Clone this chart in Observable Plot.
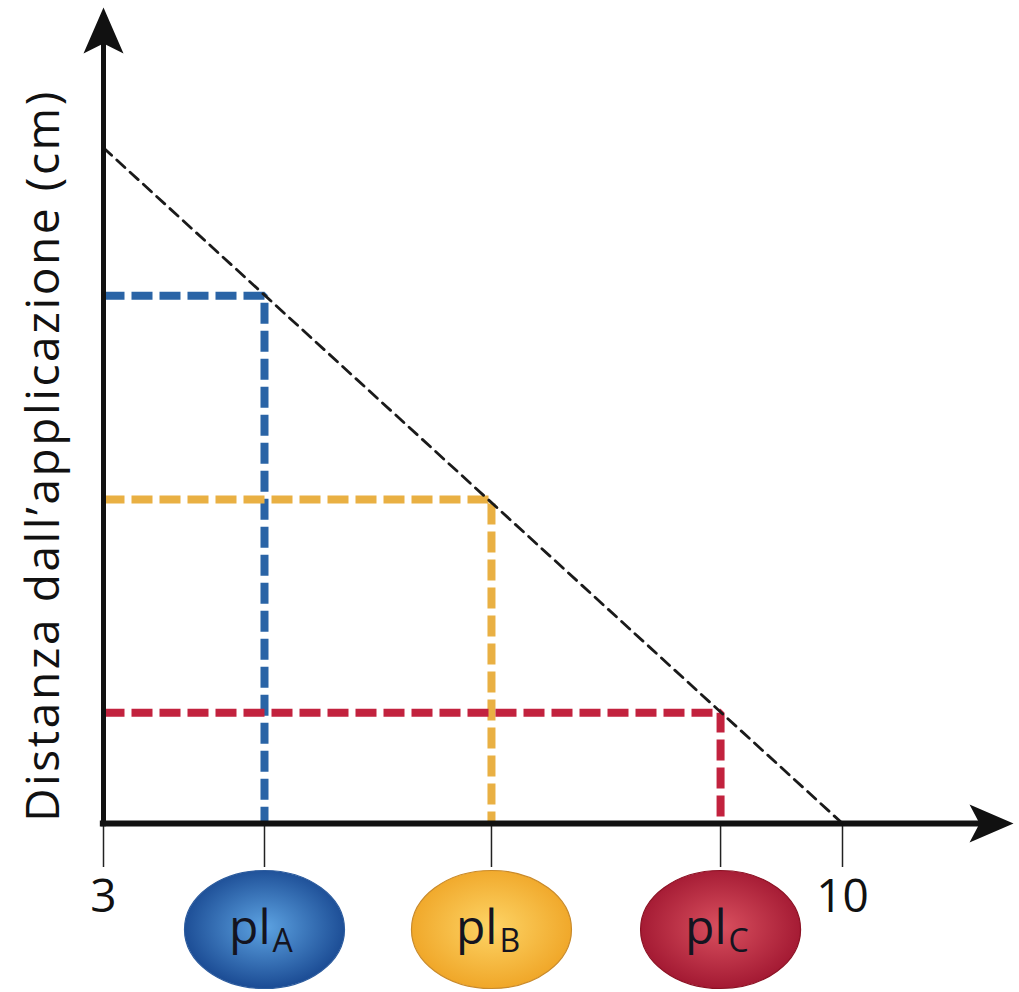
<!DOCTYPE html>
<html><head><meta charset="utf-8">
<script src="https://cdn.jsdelivr.net/npm/d3@7"></script>
<script src="https://cdn.jsdelivr.net/npm/@observablehq/plot@0.6"></script>
<style>body{margin:0;background:#fff}</style>
</head><body><div id="chart"></div>
<script>
// ---- data ----
const products = ["A", "B", "C"];
const productX = [4.525, 6.675, 8.845];
const productY = [5.0, 3.07, 1.05];
const productColors = ["#2a64a6", "#e9b043", "#c2223e"];
const gradInner = ["#5da3e2", "#fdd466", "#d9505f"];
const gradOuter = ["#17468f", "#efa425", "#a01630"];
const ellipseStroke = ["#2d5c9e", "#c98a2a", "#8c1224"];
const trendX = [3, 10];
const trendY = [6.4, 0];
const xTickLabels = [3, 10];
const yLabel = "Distanza dall’applicazione (cm)";
const xAxisSpan = [2.97, 11.36];
const yAxisSpan = [-0.03, 7.42];
const arrowTipX = 11.62;
const arrowTipY = 7.73;

// ---- helpers ----
const guide = products.flatMap((p, i) => [
  {p, x: trendX[0], y: productY[i]},
  {p, x: productX[i], y: productY[i]},
  {p, x: productX[i], y: 0}
]);
const trend = trendX.map((x, i) => ({x, y: trendY[i]}));

const ellipse = {draw(ctx) {
  const rx = 80, ry = 59, k = 0.5523;
  ctx.moveTo(rx, 0);
  ctx.bezierCurveTo(rx, ry * k, rx * k, ry, 0, ry);
  ctx.bezierCurveTo(-rx * k, ry, -rx, ry * k, -rx, 0);
  ctx.bezierCurveTo(-rx, -ry * k, -rx * k, -ry, 0, -ry);
  ctx.bezierCurveTo(rx * k, -ry, rx, -ry * k, rx, 0);
  ctx.closePath();
}};
const arrowUp = {draw(ctx) {
  ctx.moveTo(0, 0); ctx.lineTo(20, 46); ctx.lineTo(0, 36); ctx.lineTo(-20, 46); ctx.closePath();
}};
const arrowRight = {draw(ctx) {
  ctx.moveTo(0, 0); ctx.lineTo(-44, -19); ctx.lineTo(-34, 0); ctx.lineTo(-44, 19); ctx.closePath();
}};

const defsMark = () => {
  const g = d3.create("svg:defs");
  products.forEach((p, i) => {
    const rg = g.append("radialGradient").attr("id", "grad" + p)
      .attr("cx", "50%").attr("cy", "48%").attr("r", "55%");
    rg.append("stop").attr("offset", "0%").attr("stop-color", gradInner[i]);
    rg.append("stop").attr("offset", "100%").attr("stop-color", gradOuter[i]);
  });
  return g.node();
};

const chart = Plot.plot({
  width: 1019,
  height: 992,
  marginLeft: 103,
  marginRight: 177,
  marginTop: 15,
  marginBottom: 169,
  style: {fontFamily: "Open Sans", color: "#111", background: "#fff"},
  x: {domain: [3, 10]},
  y: {domain: [0, 7.654], axis: null},
  color: {type: "identity"},
  marks: [
    defsMark,
    Plot.line(guide, {x: "x", y: "y", z: "p",
      stroke: d => productColors[products.indexOf(d.p)],
      strokeWidth: 8, strokeDasharray: "21,7", strokeLinecap: "butt", strokeLinejoin: "miter"}),
    Plot.line(trend, {x: "x", y: "y", stroke: "#1a1a1a", strokeWidth: 2.8, strokeDasharray: "11,7"}),
    Plot.axisX({ticks: [3, ...productX, 10], tickSize: 44, tickPadding: 12, fontSize: 46,
      tickFormat: d => xTickLabels.includes(d) ? String(d) : "", label: null,
      stroke: "#222", strokeWidth: 1.5}),
    Plot.ruleY([0], {x1: xAxisSpan[0], x2: xAxisSpan[1], stroke: "#111", strokeWidth: 6}),
    Plot.ruleX([3], {y1: yAxisSpan[0], y2: yAxisSpan[1], stroke: "#111", strokeWidth: 5}),
    Plot.dot([0], {x: arrowTipX, y: 0, symbol: arrowRight, fill: "#111", stroke: "none"}),
    Plot.dot([0], {x: 3, y: arrowTipY, symbol: arrowUp, fill: "#111", stroke: "none"}),
    ...products.map((p, i) => Plot.dot([p], {x: productX[i], y: 0, dy: 106, symbol: ellipse,
      fill: `url(#grad${p})`, stroke: ellipseStroke[i], strokeWidth: 1.2})),
    Plot.text(products, {x: (d, i) => productX[i], y: 0, text: () => "pl", textAnchor: "end",
      lineAnchor: "bottom", dx: 6, dy: 120, fontSize: 48, fill: "#141420"}),
    Plot.text(products, {x: (d, i) => productX[i], y: 0, text: d => d, textAnchor: "start",
      lineAnchor: "bottom", dx: 8, dy: 128, fontSize: 32, fill: "#141420"}),
    Plot.text([yLabel], {frameAnchor: "left", text: d => d, rotate: -90, textAnchor: "middle",
      dx: -59, dy: 36, fontSize: 46, fill: "#111"})
  ]
});
d3.select(chart).selectAll("text")
  .filter(function () { return this.textContent === yLabel; })
  .style("letter-spacing", "2.6px");
document.getElementById("chart").appendChild(chart);
</script>
</body></html>
